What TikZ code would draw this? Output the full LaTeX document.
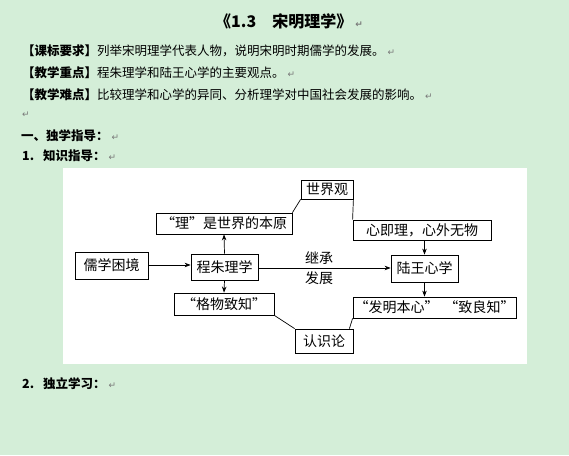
\documentclass[tikz,border=0pt]{standalone}
\usepackage{fontspec}
\setmainfont{Noto Sans CJK SC}
\newfontfamily\dejavu{DejaVu Sans}
\usetikzlibrary{arrows.meta}
\definecolor{bg}{RGB}{212,238,216}
\definecolor{retgray}{RGB}{120,120,120}
\newcommand{\retmark}{\hspace{3pt}{\dejavu\color{retgray}\fontsize{9}{9}\selectfont ↵}}
\tikzset{
  hdr/.style={anchor=west, inner sep=0pt, font=\fontsize{12.5}{12.5}\selectfont},
  bx/.style={draw, line width=0.8pt, inner sep=0pt, font=\fontsize{14}{14}\selectfont},
  lbl/.style={inner sep=0pt, font=\fontsize{14}{14}\selectfont},
  arr/.style={-{Stealth[length=6pt,width=4.5pt]}, line width=0.7pt},
  ln/.style={line width=0.7pt}
}
\begin{document}
\begin{tikzpicture}[x=1pt,y=-1pt]
\useasboundingbox (0,0) rectangle (569,455);
\fill[bg] (0,0) rectangle (569,455);
\fill[white] (63,168) rectangle (527,364);

% header texts
\node[anchor=west, inner sep=0pt, font=\fontsize{16}{16}\selectfont\bfseries] (title) at (215,21) {《1.3　宋明理学》\retmark};
\node[hdr] (l1) at (22,51) {\textbf{【课标要求】}列举宋明理学代表人物，说明宋明时期儒学的发展。\retmark};
\node[hdr] (l2) at (22,73) {\textbf{【教学重点】}程朱理学和陆王心学的主要观点。\retmark};
\node[hdr] (l3) at (22,95) {\textbf{【教学难点】}比较理学和心学的异同、分析理学对中国社会发展的影响。\retmark};
\node[hdr] (l4) at (19,115) {\retmark};
\node[hdr] (s1) at (21,136) {\textbf{一、独学指导：}\retmark};
\node[hdr] (n1) at (22,156) {\textbf{1.}};
\node[hdr] (t1) at (43,156) {\textbf{知识指导：}\retmark};
\node[hdr] (n2) at (22,384) {\textbf{2.}};
\node[hdr] (t2) at (43,384) {\textbf{独立学习：}\retmark};

% diagram nodes
\node[bx, minimum width=73pt, minimum height=27pt] (ru) at (111.5,265.5) {儒学困境};
\node[bx, minimum width=67pt, minimum height=26pt] (cz) at (224.5,267) {程朱理学};
\node[bx, minimum width=136pt, minimum height=21pt] (li) at (224,223.5) {“理”是世界的本原};
\node[bx, minimum width=100pt, minimum height=22pt] (gw) at (224,304) {“格物致知”};
\node[bx, minimum width=52pt, minimum height=19pt] (sj) at (327,189.5) {世界观};
\node[bx, minimum width=138pt, minimum height=20pt] (xj) at (422,230) {心即理，心外无物};
\node[bx, minimum width=67pt, minimum height=27pt] (lw) at (424.5,268.5) {陆王心学};
\node[bx, minimum width=163pt, minimum height=21pt] (fm) at (434.5,307.5) {“发明本心”\hspace{6pt}“致良知”};
\node[bx, minimum width=58pt, minimum height=24pt] (rs) at (324,341) {认识论};
\node[lbl] (jc) at (319,258) {继承};
\node[lbl] (fz) at (319,278) {发展};

% connectors
\draw[arr] (ru.east |- 0,265) -- (cz.west |- 0,265);
\draw[arr] (cz.north) -- (li.south);
\draw[arr] (cz.south) -- (gw.north);
\draw[arr] (cz.east |- 0,268) -- (lw.west |- 0,268);
\draw[arr] (xj.south -| lw.north) -- (lw.north);
\draw[arr] (lw.south) -- (lw.south |- fm.north);
\draw[ln] (sj.south west) -- (li.north east);
\draw[ln] (sj.south east) -- (xj.north west);
\draw[ln] (gw.south east) -- (rs.north west);
\draw[ln] ([xshift=-4pt]rs.north east) -- (fm.south west);
\end{tikzpicture}
\end{document}
